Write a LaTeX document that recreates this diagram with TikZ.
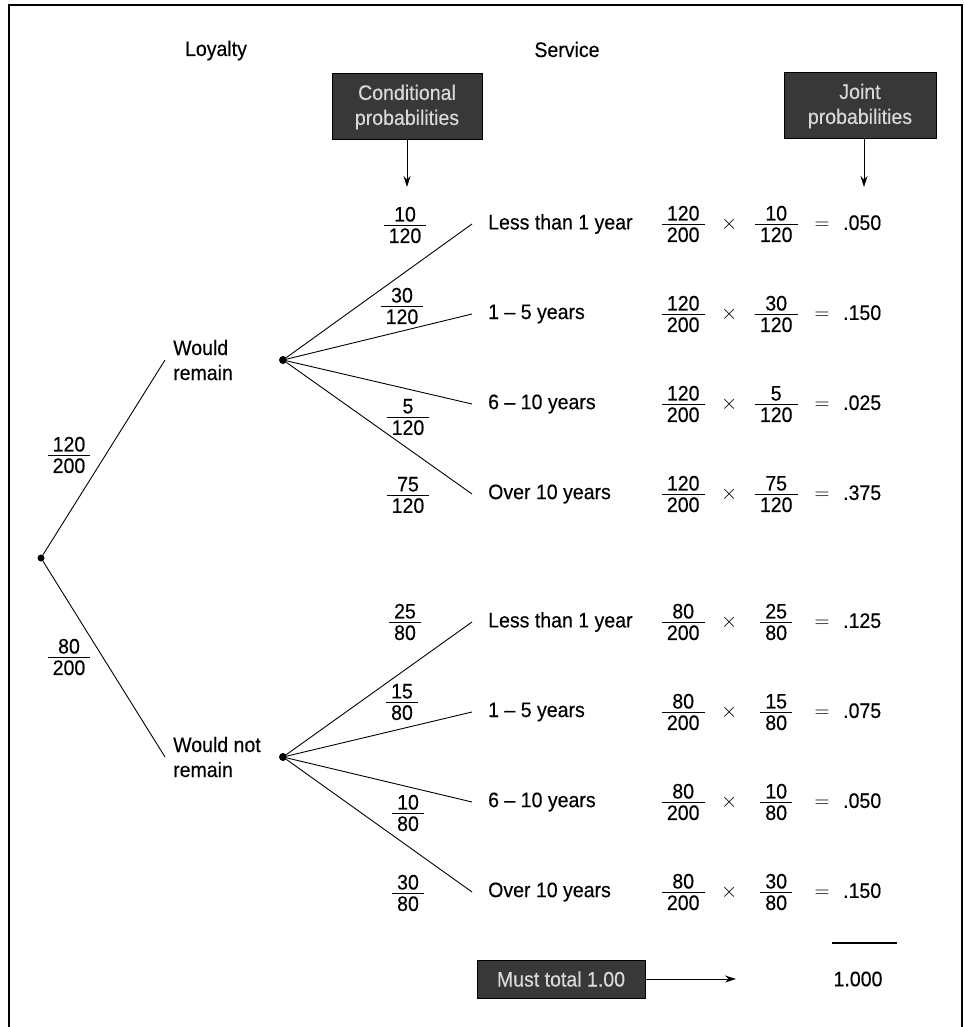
\documentclass[tikz,border=0pt]{standalone}
\usepackage{amsmath}
\usepackage{fontspec}
\setmainfont[FakeStretch=0.93,FakeBold=0.3]{Liberation Sans}
\usetikzlibrary{arrows.meta,positioning}
\newcommand{\fr}[2]{$\frac{\mbox{\rule[-3pt]{0pt}{3pt}#1}}{\mbox{\rule{0pt}{16pt}\hspace{5pt}#2\hspace{5pt}}}$}
\newcommand{\joint}[5]{\makebox[46pt]{\fr{#1}{#2}}\hspace{13pt}\makebox[20pt]{$\times$}\hspace{14pt}\makebox[46pt]{\fr{#3}{#4}}\hspace{13pt}\makebox[20pt]{$=$}\hspace{11pt}#5}

\begin{document}
\begin{tikzpicture}[x=1pt,y=-1pt,font=\fontsize{21}{25}\selectfont,
  dot/.style={circle,fill=black,inner sep=0pt,minimum size=8pt},
  br/.style={line width=0.9pt},
  lbl/.style={anchor=west,align=left,inner xsep=8pt,inner ysep=1pt},
  leaf/.style={anchor=west,inner xsep=16pt,inner ysep=1pt},
  fr/.style={inner sep=0pt},
  jt/.style={anchor=west,inner sep=0pt},
  tag/.style={draw=black,fill=black!78,text=white!85!black,align=center,line width=1pt},
  ar/.style={-{Stealth[length=11pt,width=7pt]},line width=0.9pt}]
  \useasboundingbox (0,0) rectangle (965,1027);
  \draw[line width=1.5pt] (9,1027) -- (9,5) -- (962,5) -- (962,1027);
  \node[anchor=base] (loyalty) at (216,56) {Loyalty};
  \node[anchor=base] (service) at (567,57) {Service};
  \node[tag,minimum width=150pt,minimum height=66pt] (cond) at (407,107) {Conditional\\probabilities};
  \node[tag,minimum width=152pt,minimum height=66pt] (jnt)  at (860,106) {Joint\\probabilities};
  \coordinate (condtip) at (407,187);
  \coordinate (jnttip)  at (864,187);
  \draw[ar] (cond) -- (condtip);
  \draw[ar] (jnt.south -| jnttip) -- (jnttip);
  \node[dot,minimum size=7pt] (root) at (41,558) {};
  \node[lbl] (stayl)  at (165,360) {Would\\remain};
  \node[lbl] (leavel) at (165,757) {Would not\\remain};
  \draw[br] (root) -- (stayl.west);
  \draw[br] (root) -- (leavel.west);
  \node[fr] (pstay)  at (69,455) {\fr{120}{200}};
  \node[fr] (pleave) at (69,657) {\fr{80}{200}};
  \node[dot] (stay)  at (283,360) {};
  \node[dot] (leave) at (283,757) {};
  \node[leaf] (s1) at (472,224) {Less than 1 year};
  \node[leaf] (s2) at (472,314) {1 -- 5 years};
  \node[leaf] (s3) at (472,404) {6 -- 10 years};
  \node[leaf] (s4) at (472,494) {Over 10 years};
  \node[leaf] (n1) at (472,622) {Less than 1 year};
  \node[leaf] (n2) at (472,712) {1 -- 5 years};
  \node[leaf] (n3) at (472,802) {6 -- 10 years};
  \node[leaf] (n4) at (472,892) {Over 10 years};
  \draw[br] (stay) -- (s1.west);
  \draw[br] (stay) -- (s2.west);
  \draw[br] (stay) -- (s3.west);
  \draw[br] (stay) -- (s4.west);
  \draw[br] (leave) -- (n1.west);
  \draw[br] (leave) -- (n2.west);
  \draw[br] (leave) -- (n3.west);
  \draw[br] (leave) -- (n4.west);
  \node[fr] (cs1) at (405,225) {\fr{10}{120}};
  \node[fr] (cs2) at (402,306) {\fr{30}{120}};
  \node[fr] (cs3) at (408,417) {\fr{5}{120}};
  \node[fr] (cs4) at (408,495) {\fr{75}{120}};
  \node[fr] (cn1) at (405,622) {\fr{25}{80}};
  \node[fr] (cn2) at (402,702) {\fr{15}{80}};
  \node[fr] (cn3) at (408,813) {\fr{10}{80}};
  \node[fr] (cn4) at (408,893) {\fr{30}{80}};
  \node[jt] (js1) at (660,224) {\joint{120}{200}{10}{120}{.050}};
  \node[jt] (js2) at (660,314) {\joint{120}{200}{30}{120}{.150}};
  \node[jt] (js3) at (660,404) {\joint{120}{200}{5}{120}{.025}};
  \node[jt] (js4) at (660,494) {\joint{120}{200}{75}{120}{.375}};
  \node[jt] (jn1) at (660,622) {\joint{80}{200}{25}{80}{.125}};
  \node[jt] (jn2) at (660,712) {\joint{80}{200}{15}{80}{.075}};
  \node[jt] (jn3) at (660,802) {\joint{80}{200}{10}{80}{.050}};
  \node[jt] (jn4) at (660,892) {\joint{80}{200}{30}{80}{.150}};
  \draw[line width=1.5pt] (832,943) -- (897,943);
  \node (total) at (858,979) {1.000};
  \node[tag,minimum width=168pt,minimum height=38pt] (must) at (561,979) {Must total 1.00};
  \coordinate (musttip) at (736,979);
  \draw[ar] (must) -- (musttip);
\end{tikzpicture}
\end{document}
